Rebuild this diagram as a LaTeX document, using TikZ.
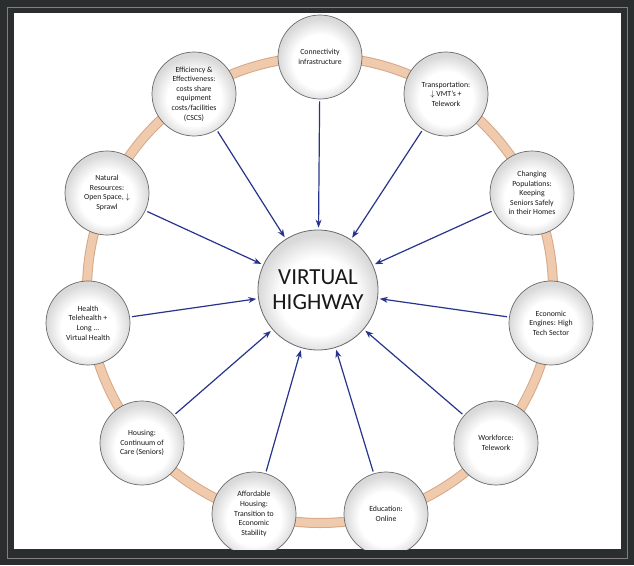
\documentclass[tikz,border=0pt]{standalone}
\usepackage{fontspec}
\setmainfont{Carlito}
\usetikzlibrary{arrows.meta}
\definecolor{ringc}{RGB}{240,202,172}
\definecolor{ringedge}{RGB}{214,168,136}
\definecolor{arrowblue}{RGB}{40,52,140}
\definecolor{framec}{RGB}{42,46,46}
\definecolor{rimc}{RGB}{105,105,105}
\pgfdeclareradialshading{ballshade}{\pgfpoint{0bp}{-4bp}}{color(0bp)=(white); color(16bp)=(white); color(25bp)=(black!15); color(50bp)=(black!15)}
\begin{document}
\begin{tikzpicture}[x=1pt,y=-1pt,
  sat/.style={circle, minimum size=84pt, inner sep=0pt, draw=rimc, line width=0.7pt,
    shading=ballshade, align=center, text=black!90,
    font=\fontsize{7.8}{9.6}\selectfont},
  hub/.style={circle, minimum size=120pt, inner sep=0pt, draw=rimc, line width=0.8pt,
    shading=ballshade, align=center, text=black!90,
    font=\fontsize{23}{25}\selectfont},
  arr/.style={draw=arrowblue, line width=1.2pt, -{Stealth[length=8pt,width=6pt]},
    shorten <=2pt, shorten >=2pt}]
\useasboundingbox (0,0) rectangle (634,565);
% frame
\fill[framec] (0,0) rectangle (634,565);
\draw[black!50, line width=0.8pt] (7,7) rectangle (627,558);
\fill[white] (14,13) rectangle (621,549);
\begin{scope}
\clip (14,13) rectangle (621,549);
% ring
\draw[ringedge, line width=10pt] (320,290) circle[radius=233];
\draw[ringc, line width=8pt] (320,290) circle[radius=233];
% nodes
\node[hub] (hub) at (318,290) {VIRTUAL\\HIGHWAY};
\node[sat] (conn) at (320,57) {Connectivity\\infrastructure};
\node[sat] (trans) at (446,94) {Transportation:\\$\downarrow$ VMT's +\\Telework};
\node[sat] (chang) at (532,193) {Changing\\Populations:\\Keeping\\Seniors Safely\\in their Homes};
\node[sat] (econ) at (551,323) {Economic\\Engines: High\\Tech Sector};
\node[sat] (work) at (496,443) {Workforce:\\Telework};
\node[sat] (edu) at (386,514) {Education:\\Online};
\node[sat] (afford) at (254,514) {Affordable\\Housing:\\Transition to\\Economic\\Stability};
\node[sat] (house) at (142,443) {Housing:\\Continuum of\\Care (Seniors)};
\node[sat] (health) at (88,323) {Health\\Telehealth +\\Long ...\\Virtual Health};
\node[sat] (natur) at (107,193) {Natural\\Resources:\\Open Space, $\downarrow$\\Sprawl};
\node[sat] (effic) at (194,94) {Efficiency \&\\Effectiveness:\\costs share\\equipment\\costs/facilities\\(CSCS)};
% arrows
\foreach \s in {conn,trans,chang,econ,work,edu,afford,house,health,natur,effic}
  \draw[arr] (\s) -- (hub);
\end{scope}
\end{tikzpicture}
\end{document}
